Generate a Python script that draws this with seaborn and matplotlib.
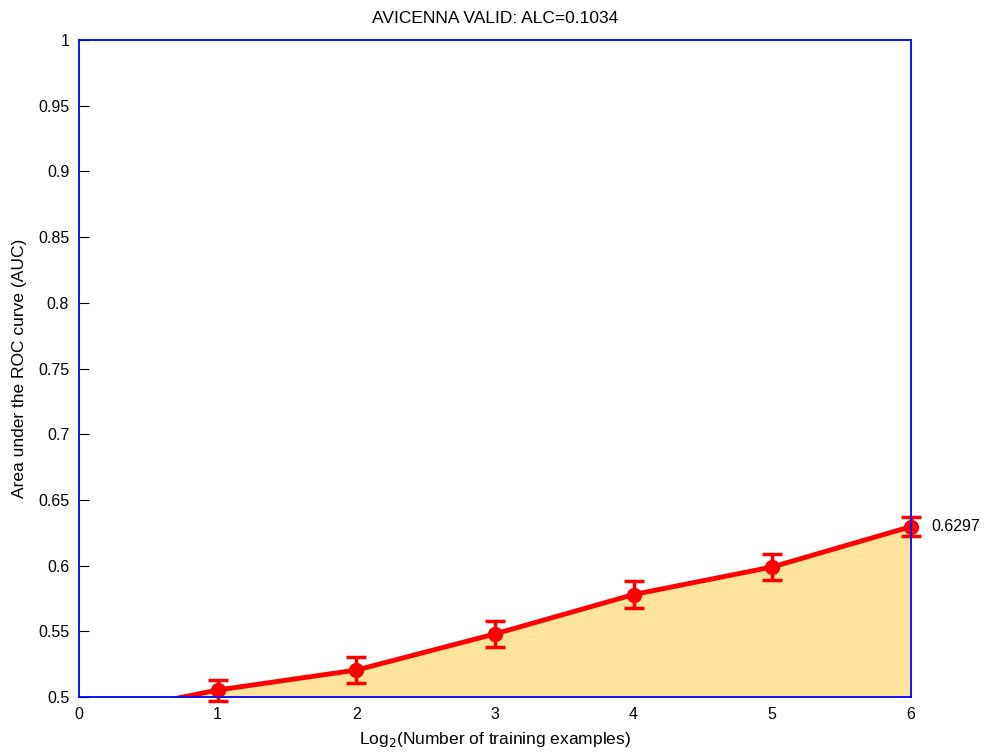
import numpy as np, pandas as pd
import matplotlib
matplotlib.use('Agg')
import matplotlib.pyplot as plt
import seaborn as sns

# log2 of number of training examples and the AUC reached
log2_examples = [0, 1, 2, 3, 4, 5, 6]
auc_values = [0.484, 0.5053, 0.5205, 0.548, 0.578, 0.599, 0.6297]
auc_err = [0.0, 0.008, 0.010, 0.010, 0.010, 0.010, 0.007]
title_text = 'AVICENNA VALID: ALC=0.1034'
final_label = '0.6297'

sns.set_style('white')
plt.rcParams['font.family'] = ['Liberation Sans', 'DejaVu Sans']
plt.rcParams['text.color'] = 'black'
plt.rcParams['axes.labelcolor'] = 'black'

df = pd.DataFrame({'x': log2_examples, 'auc': auc_values, 'err': auc_err})

fig = plt.figure(figsize=(9.92, 7.55), dpi=100)
ax = fig.add_axes([0.0796, 0.0768, 0.8387, 0.8702])

# area under the learning curve, above the 0.5 baseline
ax.fill_between(df['x'], 0.5, df['auc'], where=df['auc'] >= 0.5, interpolate=True,
                color='#fde49a', lw=0, zorder=1)

sns.lineplot(data=df, x='x', y='auc', ax=ax, color='red', lw=3.5, zorder=3)
pts = df[df['x'] > 0]
ax.errorbar(pts['x'], pts['auc'], yerr=pts['err'], fmt='o', color='red', ms=10,
            elinewidth=2.5, capsize=7, capthick=2.5, zorder=4, clip_on=False)

ax.text(6.15, auc_values[-1], final_label, va='center', ha='left', fontsize=11.5)

ax.set_xlim(0, 6)
ax.set_ylim(0.5, 1)
ax.set_xticks(range(0, 7))
ax.set_yticks(np.arange(0.5, 1.0001, 0.05))
ax.set_yticklabels(['0.5', '0.55', '0.6', '0.65', '0.7', '0.75', '0.8', '0.85', '0.9', '0.95', '1'])
ax.tick_params(direction='in', length=7, labelsize=11.5, colors='black', pad=7)
ax.tick_params(axis='y', left=True)
ax.tick_params(axis='x', bottom=False)

for sp in ax.spines.values():
    sp.set_color('blue')
    sp.set_linewidth(1.3)
    sp.set_visible(True)
    sp.set_zorder(5)

ax.set_xlabel('Log$_2$(Number of training examples)', fontsize=12.5, labelpad=6)
ax.set_ylabel('Area under the ROC curve (AUC)', fontsize=12.5, labelpad=8)
ax.set_title(title_text, fontsize=12.5, pad=12)

fig.savefig('out.png', dpi=100)
